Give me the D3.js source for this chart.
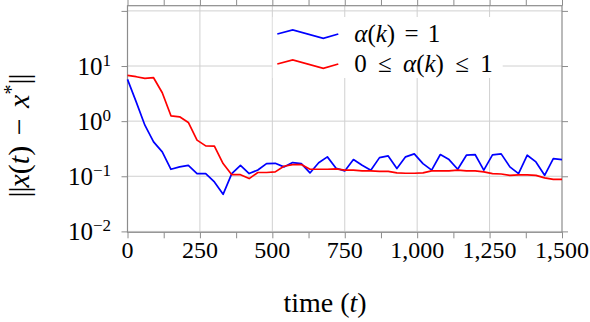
<!DOCTYPE html>
<html>
<head>
<meta charset="utf-8">
<script src="https://cdn.jsdelivr.net/npm/d3@7/dist/d3.min.js"></script>
<style>
  body { margin: 0; background: #fff; }
</style>
</head>
<body>
<svg id="chart" width="590" height="322"></svg>
<script>
// time samples (every 30 steps)
const times = [0, 30, 60, 90, 120, 150, 180, 210, 240, 270, 300, 330, 360, 390, 420, 450,
  480, 510, 540, 570, 600, 630, 660, 690, 720, 750, 780, 810, 840, 870, 900, 930, 960, 990,
  1020, 1050, 1080, 1110, 1140, 1170, 1200, 1230, 1260, 1290, 1320, 1350, 1380, 1410, 1440,
  1470, 1500];

// alpha(k) = 1
const errFixed = [5.73, 2.24, 0.845, 0.421, 0.277, 0.134, 0.148, 0.158, 0.112, 0.112, 0.0789,
  0.0471, 0.112, 0.158, 0.112, 0.130, 0.170, 0.172, 0.148, 0.177, 0.170, 0.115, 0.176, 0.225,
  0.140, 0.125, 0.201, 0.158, 0.129, 0.218, 0.234, 0.138, 0.225, 0.255, 0.170, 0.129, 0.248,
  0.201, 0.134, 0.241, 0.248, 0.129, 0.244, 0.255, 0.148, 0.112, 0.241, 0.182, 0.104, 0.209,
  0.201];

// 0 <= alpha(k) <= 1
const errAdaptive = [6.76, 6.40, 5.97, 6.14, 3.27, 1.25, 1.20, 0.946, 0.452, 0.356, 0.351,
  0.170, 0.107, 0.107, 0.0908, 0.117, 0.117, 0.120, 0.152, 0.163, 0.163, 0.134, 0.134, 0.134,
  0.136, 0.129, 0.129, 0.125, 0.125, 0.123, 0.123, 0.115, 0.1135, 0.1135, 0.115, 0.125, 0.125,
  0.125, 0.129, 0.125, 0.125, 0.120, 0.112, 0.110, 0.104, 0.106, 0.106, 0.104, 0.0933, 0.0881,
  0.0881];

const xMajor = [0, 250, 500, 750, 1000, 1250, 1500];
const xMinor = [125, 375, 625, 875, 1125, 1375];
const yTicks = [1e-2, 1e-1, 1e0, 1e1, 1e2];
const yLabelTicks = [1e-2, 1e-1, 1e0, 1e1];
const yExps = ["\u22122", "\u22121", "0", "1"];

const series = [
  { name: "fixed", values: errFixed, color: "#0000ff" },
  { name: "adaptive", values: errAdaptive, color: "#ff0000" }
];

const serif = "'Liberation Serif', 'DejaVu Serif', 'Times New Roman', serif";
const svg = d3.select("#chart").attr("font-family", serif);
const pL = 127.5, pR = 562, pT = 5.7, pB = 232.3;
const axisColor = "#8c8c8c", gridColor = "#d0d0d0";

const x = d3.scaleLinear().domain([0, 1500]).range([pL, pR]);
const y = d3.scaleLog()
  .domain([Math.pow(10, -2 - 0.9 / 55.1), Math.pow(10, 2 + 5.2 / 55.1)])
  .range([pB, pT]);

// grid
svg.append("g").selectAll("line")
  .data(xMajor.slice(1, -1)).join("line")
  .attr("x1", d => x(d)).attr("x2", d => x(d))
  .attr("y1", pT).attr("y2", pB)
  .attr("stroke", gridColor).attr("stroke-width", 1);
svg.append("g").selectAll("line")
  .data(yTicks).join("line")
  .attr("x1", pL).attr("x2", pR)
  .attr("y1", d => y(d)).attr("y2", d => y(d))
  .attr("stroke", gridColor).attr("stroke-width", 1);

// axes (ticks only; frame drawn after)
function styleAxis(g) {
  g.select(".domain").remove();
  g.selectAll(".tick line").attr("stroke", axisColor).attr("stroke-width", 1);
}
const xTickVals = xMajor.concat(xMinor);
svg.append("g").attr("transform", `translate(0,${pB})`)
  .call(d3.axisBottom(x).tickValues(xTickVals).tickSize(6).tickFormat(""))
  .call(styleAxis);
svg.append("g").attr("transform", `translate(0,${pT})`)
  .call(d3.axisTop(x).tickValues(xTickVals).tickSize(6).tickFormat(""))
  .call(styleAxis);
svg.append("g").attr("transform", `translate(${pL},0)`)
  .call(d3.axisLeft(y).tickValues(yTicks).tickSize(6).tickFormat(""))
  .call(styleAxis);
svg.append("g").attr("transform", `translate(${pR},0)`)
  .call(d3.axisRight(y).tickValues(yTicks).tickSize(6).tickFormat(""))
  .call(styleAxis);

svg.append("rect")
  .attr("x", pL).attr("y", pT)
  .attr("width", pR - pL).attr("height", pB - pT)
  .attr("fill", "none").attr("stroke", axisColor).attr("stroke-width", 1.2);

// tick labels
const fmt = d3.format(",");
svg.append("g").selectAll("text")
  .data(xMajor).join("text")
  .attr("x", d => x(d)).attr("y", 258)
  .attr("text-anchor", "middle")
  .attr("font-size", 24)
  .text(d => fmt(d));

const yl = svg.append("g").selectAll("text")
  .data(yLabelTicks).join("text")
  .attr("x", 111).attr("y", d => y(d) + 9)
  .attr("text-anchor", "end")
  .attr("font-size", 25);
yl.append("tspan").text("10");
yl.append("tspan").attr("dy", -9).attr("font-size", 17).text((d, i) => yExps[i]);

// data lines
const line = d3.line()
  .x((d, i) => x(times[i]))
  .y(d => y(d));
svg.append("g").selectAll("path")
  .data(series).join("path")
  .attr("d", d => line(d.values))
  .attr("fill", "none")
  .attr("stroke", d => d.color)
  .attr("stroke-width", 1.7)
  .attr("stroke-linejoin", "round");

// legend
const legendGlyph = [[0, 0], [15.4, -4], [46, 4.3], [61, 0]];
const legend = svg.append("g").attr("transform", "translate(272.7,17)");
legend.append("rect")
  .attr("width", 230).attr("height", 61)
  .attr("fill", "#fff");
const rows = legend.selectAll("g")
  .data(series).join("g")
  .attr("transform", (d, i) => `translate(4.6,${17 + i * 30})`);
rows.append("path")
  .attr("d", d3.line()(legendGlyph))
  .attr("fill", "none")
  .attr("stroke", d => d.color)
  .attr("stroke-width", 1.7);

const l1 = legend.append("text").attr("x", 81.6).attr("y", 24.7)
  .attr("font-size", 25).attr("word-spacing", 3);
l1.append("tspan").attr("font-style", "italic").text("\u03b1");
l1.append("tspan").text("(");
l1.append("tspan").attr("font-style", "italic").text("k");
l1.append("tspan").text(") = 1");

const l2 = legend.append("text").attr("x", 81.6).attr("y", 54.7)
  .attr("font-size", 25).attr("word-spacing", 5);
l2.append("tspan").text("0 \u2264 ");
l2.append("tspan").attr("font-style", "italic").text("\u03b1");
l2.append("tspan").text("(");
l2.append("tspan").attr("font-style", "italic").text("k");
l2.append("tspan").text(") \u2264 1");

// axis labels
const xl = svg.append("text")
  .attr("x", 325).attr("y", 312)
  .attr("text-anchor", "middle")
  .attr("font-size", 28);
xl.append("tspan").text("time (");
xl.append("tspan").attr("font-style", "italic").text("t");
xl.append("tspan").text(")");

// norm bars drawn as two pipes each, the double-bar glyph came out too short
const ylab = svg.append("text")
  .attr("transform", "translate(29,136) rotate(-90)")
  .attr("text-anchor", "middle")
  .attr("font-size", 30)
  .attr("word-spacing", 3);
ylab.append("tspan").attr("letter-spacing", -1).text("||");
ylab.append("tspan").attr("font-style", "italic").text("x");
ylab.append("tspan").text("(");
ylab.append("tspan").attr("font-style", "italic").text("t");
ylab.append("tspan").text(") \u2212 ");
ylab.append("tspan").attr("font-style", "italic").text("x");
ylab.append("tspan").attr("dy", -11).attr("font-size", 20).text("*");
ylab.append("tspan").attr("dy", 11).attr("letter-spacing", -1).text("||");
</script>
</body>
</html>
